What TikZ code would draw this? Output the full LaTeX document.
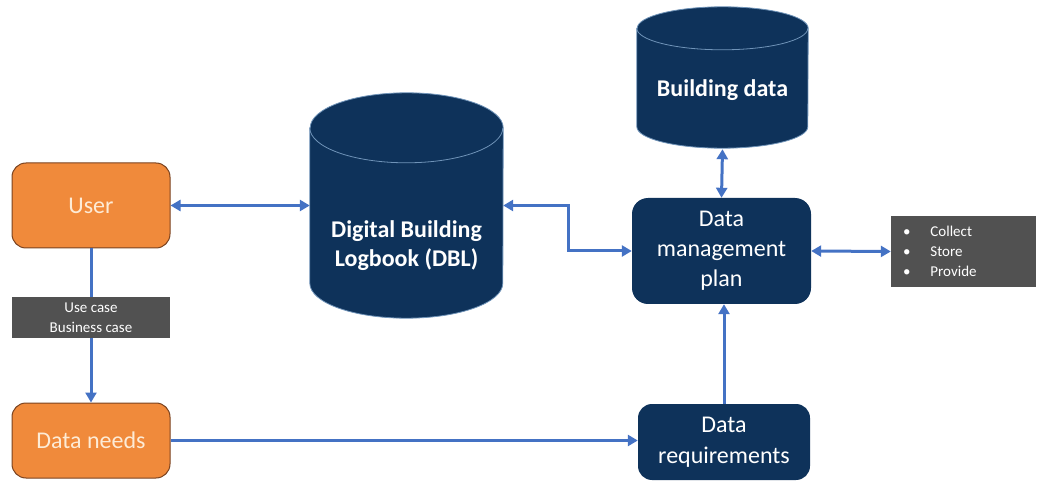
\documentclass[tikz,border=0pt]{standalone}
\usepackage{fontspec}
\setmainfont{Carlito}
\usetikzlibrary{arrows.meta}

\definecolor{dblnavy}{HTML}{0E325A}
\definecolor{rimblue}{HTML}{6F93B8}
\definecolor{useorange}{HTML}{F08A3B}
\definecolor{usebrown}{HTML}{7A4320}
\definecolor{usetext}{HTML}{FDEBD6}
\definecolor{linkblue}{HTML}{4472C4}
\definecolor{notegray}{HTML}{515151}

\tikzset{
  userbox/.style={rectangle, rounded corners=14pt, draw=usebrown, line width=1pt,
    fill=useorange, text=usetext, minimum width=158pt, align=center,
    font=\fontsize{24}{29}\selectfont},
  planbox/.style={rectangle, rounded corners=16pt, fill=dblnavy, text=white,
    align=center, font=\fontsize{24}{30}\selectfont},
  store/.style={rectangle, inner sep=0pt},
  storeline/.style={fill=dblnavy, draw=rimblue, line width=0.8pt},
  storetext/.style={text=white, align=center, font=\bfseries\fontsize{24}{29}\selectfont},
  notebox/.style={rectangle, fill=notegray, text=white,
    font=\fontsize{15}{20}\selectfont},
  tip/.tip={Triangle[length=10pt,width=11pt]},
  link/.style={draw=linkblue, line width=3pt, -tip},
  twoway/.style={link, tip-tip}
}

% drum around a store node: #1 node, #2 half width, #3 end radius
\newcommand{\drum}[3]{%
  \path[storeline] ([yshift=-#3]#1.north west) -- ([yshift=#3]#1.south west)
    arc[start angle=180, end angle=360, x radius=#2, y radius=#3]
    -- ([yshift=-#3]#1.north east)
    arc[start angle=0, end angle=180, x radius=#2, y radius=#3] -- cycle;
  \draw[rimblue, line width=0.8pt] ([yshift=-#3]#1.north west)
    arc[start angle=180, end angle=360, x radius=#2, y radius=#3];
}

\begin{document}
\begin{tikzpicture}[x=1pt, y=-1pt]
\useasboundingbox (0,0) rectangle (1037,481);

% user side
\node[userbox, minimum height=85pt] (user) at (91,205.5) {User};
\node[userbox, minimum height=75pt] (needs) at (91,440.5) {Data needs};

% stores
\node[store, minimum width=193pt, minimum height=225pt] (dbl) at (406.5,205.5) {};
\drum{dbl}{96.5pt}{35pt}
\node[storetext] (dbltext) at ([yshift=-40pt]dbl.center) {Digital Building\\Logbook (DBL)};
\node[store, minimum width=171pt, minimum height=141pt] (bdata) at (722.5,77.5) {};
\drum{bdata}{85.5pt}{21.5pt}
\node[storetext] (bdatatext) at ([yshift=-13pt]bdata.center) {Building data};

% planning
\node[planbox, minimum width=179pt, minimum height=106pt] (dmp) at (721.5,251)
  {Data\\management\\plan};
\node[planbox, minimum width=172pt, minimum height=76pt, rounded corners=14pt,
  font=\fontsize{24}{31}\selectfont] (req) at (724,442)
  {Data\\requirements};
\node[notebox, minimum height=71pt, text width=145pt, inner xsep=0pt, align=left] (tasks) at (963.5,251.5)
  {\hspace{12pt}\textbullet\hspace{20pt}Collect\\\hspace{12pt}\textbullet\hspace{20pt}Store\\\hspace{12pt}\textbullet\hspace{20pt}Provide};

% connectors
\draw[twoway] (user.east) -- (user.east -| dbl.west);
\draw[twoway] (dbl.east) -- ++(65,0) |- (dmp.west);
\draw[twoway] ([yshift=-1pt]bdata.south) -- (dmp.north);
\draw[twoway] (dmp.east) -- (tasks.west);
\draw[link] (req.north) -- (req.north |- dmp.south);
\draw[link] (needs.east) -- (needs.east -| req.west);
\draw[link] (user.south) -- (needs.north);

\node[notebox, minimum width=158pt, minimum height=41pt, align=center] (usecase) at (91,317.5)
  {Use case\\Business case};
\end{tikzpicture}
\end{document}
